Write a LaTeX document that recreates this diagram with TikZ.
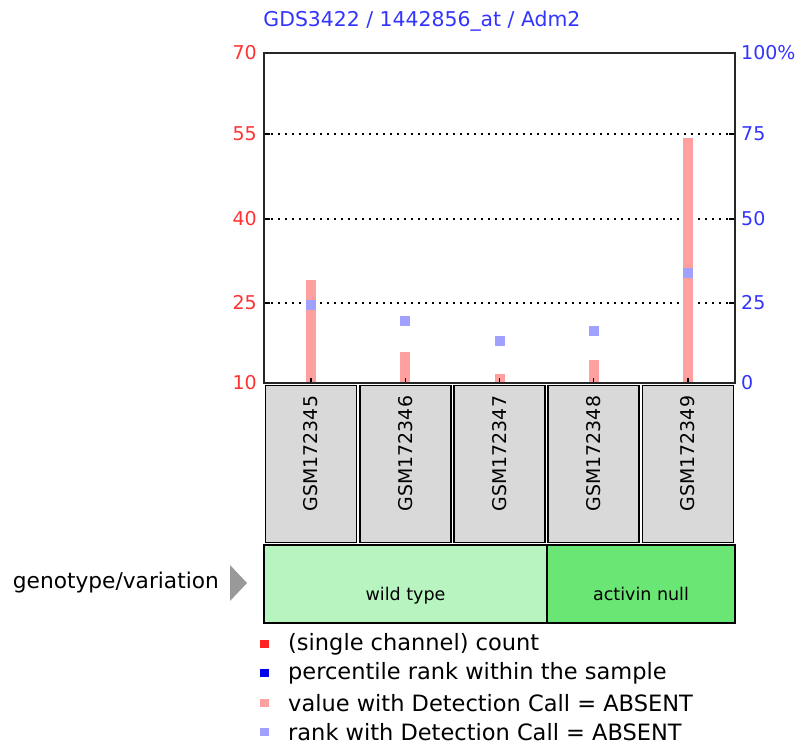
\documentclass[tikz,border=0pt]{standalone}
\usepackage{fontspec}
\setmainfont{DejaVu Sans}
\usetikzlibrary{positioning}
\definecolor{titleblue}{HTML}{3333FF}
\definecolor{axisred}{HTML}{FF3333}
\definecolor{axisblue}{HTML}{3333FF}
\definecolor{countred}{HTML}{FF2222}
\definecolor{rankdark}{HTML}{0000EE}
\definecolor{barpink}{HTML}{FFA0A0}
\definecolor{rankblue}{HTML}{A0A0FF}
\definecolor{boxgray}{HTML}{D9D9D9}
\definecolor{wtgreen}{HTML}{B8F4C0}
\definecolor{angreen}{HTML}{69E674}
\definecolor{arrowgray}{HTML}{999999}
\tikzset{
  samplebox/.style={draw=black, line width=1.5pt, fill=boxgray, minimum width=91pt, minimum height=157pt, inner sep=0pt},
  groupbox/.style={draw=black, line width=1.5pt, minimum height=78pt, inner sep=0pt},
  grouptext/.style={anchor=base, font=\fontsize{17.5}{20}\selectfont, inner sep=0pt},
  leftlab/.style={anchor=east, text=axisred, font=\fontsize{19}{20}\selectfont, inner sep=0pt},
  rightlab/.style={anchor=west, text=axisblue, font=\fontsize{19}{20}\selectfont, inner sep=0pt},
  legendsq/.style={minimum width=9pt, minimum height=8.5pt, inner sep=0pt},
  legendtext/.style={anchor=west, font=\fontsize{22.5}{24}\selectfont, inner sep=0pt},
}
\begin{document}
\begin{tikzpicture}[x=1pt,y=-1pt]
  \useasboundingbox (0,0) rectangle (796,749);
  %% title
  \node[text=titleblue, font=\fontsize{20.4}{22}\selectfont, inner sep=0pt] (title) at (422,21) {GDS3422 / 1442856\_at / Adm2};
  %% grid lines
  \foreach \gy in {134,219,303}
    \draw[line width=1.5pt, dash pattern=on 2pt off 5pt] (264,\gy) -- (735,\gy);
  %% axis labels
  \foreach \gy/\lv/\rv in {53/70/100\%,134/55/75,219/40/50,303/25/25,383/10/0} {
    \node[leftlab] at (257,\gy) {\lv};
    \node[rightlab] at (741,\gy) {\rv};
    \draw[line width=1.5pt] (264,\gy) -- (270,\gy);
    \draw[line width=1.5pt] (729,\gy) -- (735,\gy);
  }
  %% samples: bar, rank square and name box
  \foreach \i/\name/\val/\rank in {1/GSM172345/28.7/23.6,2/GSM172346/15.6/18.8,3/GSM172347/11.6/12.7,4/GSM172348/14.2/15.8,5/GSM172349/54.5/33.3} {
    \pgfmathsetmacro\cx{264+94.2*(\i-0.5)}
    \pgfmathsetmacro\top{383-(\val-10)*5.5}
    \pgfmathsetmacro\ry{383-\rank*3.3}
    \fill[barpink] (\cx-5,383) rectangle (\cx+5,\top);
    \fill[rankblue] (\cx-5,\ry-5) rectangle (\cx+5,\ry+5);
    \draw[line width=1.5pt] (\cx,383) -- (\cx,378);
    \node[samplebox] (s\i) at (\cx,464) {};
    \node[rotate=90, anchor=east, inner sep=0pt, font=\fontsize{18.9}{20}\selectfont] at ([yshift=-11pt]s\i.north) {\name};
  }
  %% plot frame
  \draw[line width=2pt, draw=black!85] (264,53) rectangle (735,383);
  %% genotype groups
  \node[groupbox, fill=wtgreen, minimum width=283pt] (wt) at (405.5,584) {};
  \node[groupbox, fill=angreen, minimum width=188pt] (an) at (641,584) {};
  \node[grouptext] at ([yshift=-16pt]wt.center) {wild type};
  \node[grouptext] at ([yshift=-16pt]an.center) {activin null};
  \node[anchor=east, inner sep=0pt, font=\fontsize{21.7}{23}\selectfont] (geno) at (219,583) {genotype/variation};
  \fill[arrowgray] (230,565) -- (247,583) -- (230,601) -- cycle;
  %% legend
  \foreach \ly/\col/\txt in {644/countred/(single channel) count,673/rankdark/percentile rank within the sample,703/barpink/value with Detection Call = ABSENT,732/rankblue/rank with Detection Call = ABSENT} {
    \node[legendsq, fill=\col] at (264,\ly) {};
    \node[legendtext] at (288,\ly) {\txt};
  }
\end{tikzpicture}
\end{document}
